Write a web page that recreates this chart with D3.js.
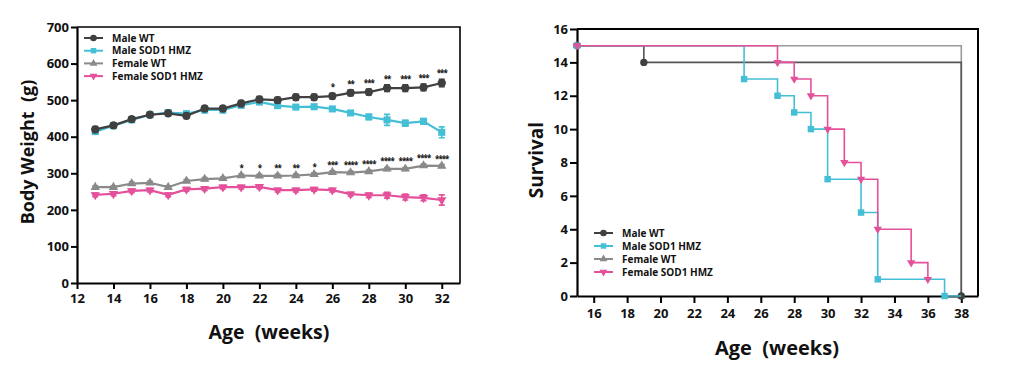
<!DOCTYPE html>
<html>
<head>
<meta charset="utf-8">
<script src="https://cdn.jsdelivr.net/npm/d3@7"></script>
<style>
  body { margin: 0; background: #fff; }
  svg { font-family: "Open Sans", sans-serif; font-weight: 700; }
</style>
</head>
<body>
<script>
// ---- body weight data ----
var weeks = [13,14,15,16,17,18,19,20,21,22,23,24,25,26,27,28,29,30,31,32];
var maleWT    = [420,431,448,460,464,457,477,477,491,502,500,508,508,511,520,522,533,533,535,547];
var maleSOD   = [414,430,446,460,466,463,473,473,486,495,485,481,482,476,465,454,446,437,442,412];
var femaleWT  = [262,262,272,274,262,279,284,286,294,293,293,294,297,303,302,305,312,312,321,320];
var femaleSOD = [241,244,252,254,241,256,258,262,262,263,254,254,256,254,243,240,240,235,233,227];
var maleWTErr    = [8,6,6,6,6,7,7,7,8,8,8,8,8,8,8,8,9,9,9,10];
var maleSODErr   = [7,6,6,6,6,6,7,7,7,7,6,6,6,6,6,7,15,8,8,15];
var femaleWTErr  = [4,4,4,4,4,4,4,4,4,4,4,4,4,4,4,4,4,4,4,4];
var femaleSODErr = [5,5,5,5,5,5,5,5,5,5,5,5,5,5,5,6,8,8,8,14];
var maleStars   = ["","","","","","","","","","","","","","*","**","***","**","***","***","***"];
var femaleStars = ["","","","","","","","","*","*","**","**","*","***","****","****","****","****","****","****"];

var seriesNames = ["Male WT", "Male SOD1 HMZ", "Female WT", "Female SOD1 HMZ"];
var seriesColors = ["#404040", "#45bfd6", "#8a8a8a", "#e4509a"];
var seriesSymbols = [d3.symbolCircle, d3.symbolSquare, d3.symbolTriangle, d3.symbolTriangle];

// ---- survival data ----
var survWeeks = [
  [15,19,38],
  [15,25,27,28,29,30,32,33,37],
  [15,38],
  [15,27,28,29,30,31,32,33,35,36]
];
var survCounts = [
  [15,14,0],
  [15,13,12,11,10,7,5,1,0],
  [15,0],
  [15,14,13,12,10,8,7,4,2,1]
];
var survEnd = [38, 38, 38, 36];
var survColors = ["#555555", "#45bfd6", "#9a9a9a", "#e4509a"];

var svg = d3.select("body").append("svg")
    .attr("width", 1024).attr("height", 373);

// marker sizes: circle, square, triangle, triangle
function marker(g, i, sizes) {
  var sym = d3.symbol().type(seriesSymbols[i]).size(sizes[i]);
  var p = g.append("path").attr("d", sym).attr("fill", seriesColors[i]);
  if (i == 3) p.attr("transform", "rotate(180)");
  return p;
}

function styleAxis(g) {
  g.selectAll(".domain").attr("stroke", "#000").attr("stroke-width", 2.2);
  g.selectAll(".tick line").attr("stroke", "#000").attr("stroke-width", 2);
  g.selectAll(".tick text").attr("fill", "#111").style("font-size", "13px")
    .style("font-family", "'Open Sans', sans-serif").style("font-weight", 700);
}

// ================= left chart =================
var x = d3.scaleLinear([12, 33], [77, 460]);
var y = d3.scaleLinear([0, 700], [283, 27]);

svg.append("path")
    .attr("d", "M" + x(12) + "," + y(700) + "H" + x(33) + "V" + y(0))
    .attr("fill", "none").attr("stroke", "#000").attr("stroke-width", 1.6);

svg.append("g").attr("transform", "translate(0," + y(0) + ")")
    .call(d3.axisBottom(x).tickValues(d3.range(12, 33, 2)).tickSize(6).tickSizeOuter(0).tickPadding(5))
    .call(styleAxis);
svg.append("g").attr("transform", "translate(" + x(12) + ",0)")
    .call(d3.axisLeft(y).ticks(7).tickSize(6).tickSizeOuter(0).tickPadding(2))
    .call(styleAxis);

var bw = [maleWT, maleSOD, femaleWT, femaleSOD];
var bwErr = [maleWTErr, maleSODErr, femaleWTErr, femaleSODErr];
var lineBW = d3.line().x(function(d) { return x(d[0]); }).y(function(d) { return y(d[1]); });
var bwSizes = [55, 50, 38, 38];

[1, 0, 2, 3].forEach(function(i) {
  var pts = weeks.map(function(w, k) { return [w, bw[i][k], bwErr[i][k]]; });
  var g = svg.append("g");
  g.append("path").datum(pts).attr("d", lineBW)
      .attr("fill", "none").attr("stroke", seriesColors[i]).attr("stroke-width", 2.2);
  var eb = g.selectAll(".eb").data(pts).join("g")
      .attr("transform", function(d) { return "translate(" + x(d[0]) + ",0)"; });
  eb.append("path")
      .attr("d", function(d) {
        return "M0," + y(d[1] - d[2]) + "V" + y(d[1] + d[2]) +
          "M-3," + y(d[1] - d[2]) + "H3M-3," + y(d[1] + d[2]) + "H3";
      })
      .attr("stroke", seriesColors[i]).attr("stroke-width", 1.6).attr("fill", "none");
  pts.forEach(function(d) {
    var m = g.append("g").attr("transform", "translate(" + x(d[0]) + "," + y(d[1]) + ")");
    marker(m, i, bwSizes);
  });
});

// significance stars
function stars(vals, errs, marks) {
  svg.append("g").selectAll("text").data(weeks).join("text")
      .attr("x", function(d) { return x(d); })
      .attr("y", function(d, k) { return y(vals[k] + errs[k]) - 3; })
      .attr("text-anchor", "middle")
      .style("font-size", "8px").style("letter-spacing", "-1px").attr("fill", "#111")
      .text(function(d, k) { return marks[k]; });
}
stars(maleWT, maleWTErr, maleStars);
stars(femaleWT, femaleWTErr, femaleStars);

// legend
function legend(x0, y0, dy, lineW, fs, sizes) {
  seriesNames.forEach(function(name, i) {
    var g = svg.append("g").attr("transform", "translate(" + x0 + "," + (y0 + i * dy) + ")");
    g.append("line").attr("x1", 0).attr("x2", lineW).attr("stroke", seriesColors[i]).attr("stroke-width", 2);
    marker(g.append("g").attr("transform", "translate(" + lineW / 2 + ",0)"), i, sizes);
    g.append("text").attr("x", lineW + 9).attr("y", 0).attr("dy", "0.35em")
        .style("font-size", fs + "px").attr("fill", "#111").text(name);
  });
}
legend(84, 38, 12.7, 19, 10, [34, 30, 26, 26]);

svg.append("text").attr("x", 269).attr("y", 339).attr("text-anchor", "middle")
    .style("font-size", "19.5px").attr("fill", "#111").attr("xml:space", "preserve").text("Age  (weeks)");
svg.append("text").attr("transform", "translate(34,152) rotate(-90)").attr("text-anchor", "middle")
    .style("font-size", "18px").attr("fill", "#111").attr("xml:space", "preserve").text("Body Weight  (g)");

// ================= right chart =================
var x2 = d3.scaleLinear([15, 39], [577, 978]);
var y2 = d3.scaleLinear([0, 16], [296, 29]);

svg.append("path")
    .attr("d", "M" + x2(15) + "," + y2(16) + "H" + x2(39) + "V" + y2(0))
    .attr("fill", "none").attr("stroke", "#000").attr("stroke-width", 2);

svg.append("g").attr("transform", "translate(0," + y2(0) + ")")
    .call(d3.axisBottom(x2).tickValues(d3.range(16, 39, 2)).tickSize(7).tickSizeOuter(0).tickPadding(6))
    .call(styleAxis);
svg.append("g").attr("transform", "translate(" + x2(15) + ",0)")
    .call(d3.axisLeft(y2).tickValues(d3.range(0, 17, 2)).tickSize(7).tickSizeOuter(0).tickPadding(2))
    .call(styleAxis);

var stepLine = d3.line().curve(d3.curveStepAfter)
    .x(function(d) { return x2(d[0]); }).y(function(d) { return y2(d[1]); });
var survSizes = [42, 42, 30, 30];

[2, 0, 1, 3].forEach(function(i) {
  var pts = survWeeks[i].map(function(w, k) { return [w, survCounts[i][k]]; });
  var last = pts[pts.length - 1];
  var linePts = pts.concat(last[0] < survEnd[i] ? [[survEnd[i], last[1]]] : []);
  var g = svg.append("g");
  g.append("path").datum(linePts).attr("d", stepLine)
      .attr("fill", "none").attr("stroke", survColors[i]).attr("stroke-width", 1.6);
  pts.forEach(function(d) {
    var m = g.append("g").attr("transform", "translate(" + x2(d[0]) + "," + y2(d[1]) + ")");
    marker(m, i, survSizes);
  });
});

legend(594, 233, 13, 19, 10, [34, 30, 26, 26]);

svg.append("text").attr("x", 777).attr("y", 355).attr("text-anchor", "middle")
    .style("font-size", "20px").attr("fill", "#111").attr("xml:space", "preserve").text("Age  (weeks)");
svg.append("text").attr("transform", "translate(543,160) rotate(-90)").attr("text-anchor", "middle")
    .style("font-size", "19px").attr("fill", "#111").text("Survival");
</script>
</body>
</html>
